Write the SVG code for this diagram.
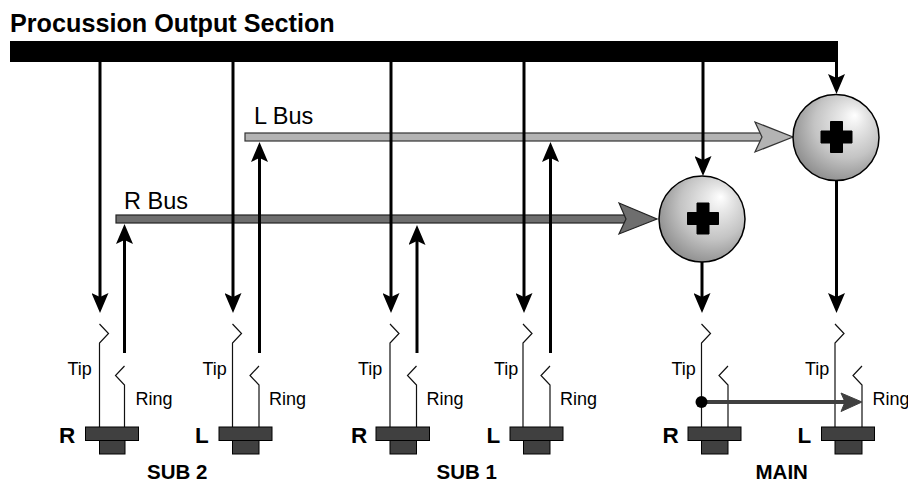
<svg xmlns="http://www.w3.org/2000/svg" xmlns:xlink="http://www.w3.org/1999/xlink" width="908" height="483" viewBox="0 0 908 483">
<style>
text{font-family:"Liberation Sans",Arial,sans-serif;fill:#000}
.title{font-size:25.2px;font-weight:bold}
.bus{font-size:23.5px}
.small{font-size:18px}
.lr{font-size:22.5px;font-weight:bold}
.grp{font-size:20.5px;font-weight:bold}
.sig{fill:none;stroke:#000;stroke-width:3}
.wire{fill:none;stroke:#111;stroke-width:1.2}
.plug{fill:#404040;stroke:#000;stroke-width:1}
.sphere{fill:url(#sph);stroke:#000;stroke-width:1.5}
.plus{fill:#000;stroke:#000;stroke-width:1;stroke-linejoin:round}
</style>
<defs>
<radialGradient id="sph" cx="0.6" cy="0.4" r="0.64" fx="0.72" fy="0.24">
<stop offset="0" stop-color="#ffffff"/>
<stop offset="0.22" stop-color="#e8e8e8"/>
<stop offset="0.62" stop-color="#c4c4c4"/>
<stop offset="1" stop-color="#8e8e8e"/>
</radialGradient>
<marker id="ah" markerUnits="userSpaceOnUse" viewBox="0 0 20 17" markerWidth="20" markerHeight="17" refX="4" refY="8.5" orient="auto">
<path d="M0,0 L20,8.5 L0,17 L4,8.5 z" fill="#000"/>
</marker>
<path id="plus" d="M-6,-15.5 h12 v9.5 h9.5 v12 h-9.5 v9.5 h-12 v-9.5 h-9.5 v-12 h9.5 z"/>
</defs>

<g id="title"><text class="title" x="10" y="31.5">Procussion Output Section</text></g>

<g id="output-bus"><rect x="10" y="41" width="828" height="21" fill="#000"/></g>

<g id="l-bus">
<rect x="245" y="133" width="518" height="8" fill="#b3b3b3" stroke="#333" stroke-width="1.2"/>
<polygon points="755,122 793,137 755,152 762,137" fill="#b3b3b3" stroke="#333" stroke-width="1.2"/>
<text class="bus" x="254" y="124">L Bus</text>
</g>

<g id="r-bus">
<rect x="116" y="215" width="511" height="8" fill="#6e6e6e" stroke="#222" stroke-width="1.2"/>
<polygon points="619,203 657,219 619,234 626,219" fill="#6e6e6e" stroke="#222" stroke-width="1.2"/>
<text class="bus" x="124" y="209">R Bus</text>
</g>

<g id="connectors">
<line class="sig" x1="100" y1="62" x2="100" y2="297" marker-end="url(#ah)"/>
<line class="sig" x1="233" y1="62" x2="233" y2="297" marker-end="url(#ah)"/>
<line class="sig" x1="391" y1="62" x2="391" y2="297" marker-end="url(#ah)"/>
<line class="sig" x1="524" y1="62" x2="524" y2="297" marker-end="url(#ah)"/>
<line class="sig" x1="703" y1="62" x2="703" y2="160" marker-end="url(#ah)"/>
<line class="sig" x1="836.5" y1="62" x2="836.5" y2="78" marker-end="url(#ah)"/>
<line class="sig" x1="124.5" y1="353" x2="124.5" y2="240" marker-end="url(#ah)"/>
<line class="sig" x1="259.5" y1="353" x2="259.5" y2="158" marker-end="url(#ah)"/>
<line class="sig" x1="417" y1="353" x2="417" y2="241" marker-end="url(#ah)"/>
<line class="sig" x1="550.5" y1="353" x2="550.5" y2="158" marker-end="url(#ah)"/>
<line class="sig" x1="702" y1="262" x2="702" y2="297" marker-end="url(#ah)"/>
<line class="sig" x1="836.5" y1="180" x2="836.5" y2="297" marker-end="url(#ah)"/>
</g>

<g id="sum-r">
<circle class="sphere" cx="836" cy="137.5" r="43"/>
<use xlink:href="#plus" href="#plus" class="plus" transform="translate(836.5,137)"/>
</g>

<g id="sum-l">
<circle class="sphere" cx="702" cy="219" r="43"/>
<use xlink:href="#plus" href="#plus" class="plus" transform="translate(703,218.5)"/>
</g>

<g id="sub2-r">
<path class="wire" d="M99.5,324 L108.5,333.5 L99.5,343 V427"/>
<path class="wire" d="M124.5,366 L115.5,375.5 L124.5,385 V427"/>
<rect class="plug" x="85.5" y="427" width="53" height="13.5"/>
<rect class="plug" x="99.5" y="440.5" width="25.5" height="13.5"/>
<text class="small" x="67.5" y="375">Tip</text>
<text class="small" x="135.5" y="404.5">Ring</text>
<text class="lr" x="59" y="443">R</text>
</g>

<g id="sub2-l">
<path class="wire" d="M232.5,324 L241.5,333.5 L232.5,343 V427"/>
<path class="wire" d="M259,366 L250,375.5 L259,385 V427"/>
<rect class="plug" x="219" y="427" width="53" height="13.5"/>
<rect class="plug" x="232.5" y="440.5" width="26.5" height="13.5"/>
<text class="small" x="202.5" y="375">Tip</text>
<text class="small" x="269" y="404.5">Ring</text>
<text class="lr" x="195" y="443">L</text>
</g>

<g id="sub1-r">
<path class="wire" d="M390,324 L399,333.5 L390,343 V427"/>
<path class="wire" d="M416.5,366 L407.5,375.5 L416.5,385 V427"/>
<rect class="plug" x="376" y="427" width="53.5" height="13.5"/>
<rect class="plug" x="390" y="440.5" width="26.5" height="13.5"/>
<text class="small" x="358" y="375">Tip</text>
<text class="small" x="426.5" y="404.5">Ring</text>
<text class="lr" x="351" y="443">R</text>
</g>

<g id="sub1-l">
<path class="wire" d="M523,324 L532,333.5 L523,343 V427"/>
<path class="wire" d="M550,366 L541,375.5 L550,385 V427"/>
<rect class="plug" x="510" y="427" width="53" height="13.5"/>
<rect class="plug" x="523.5" y="440.5" width="26.5" height="13.5"/>
<text class="small" x="494" y="375">Tip</text>
<text class="small" x="560" y="404.5">Ring</text>
<text class="lr" x="486.5" y="443">L</text>
</g>

<g id="main-r">
<path class="wire" d="M701.5,324 L710.5,333.5 L701.5,343 V427"/>
<path class="wire" d="M728,366 L719,375.5 L728,385 V427"/>
<rect class="plug" x="688" y="427" width="53" height="13.5"/>
<rect class="plug" x="701.5" y="440.5" width="26.5" height="13.5"/>
<text class="small" x="671.5" y="375">Tip</text>
<text class="lr" x="662.5" y="443">R</text>
</g>

<g id="main-l">
<path class="wire" d="M835,324 L844,333.5 L835,343 V427"/>
<path class="wire" d="M862,366 L853,375.5 L862,385 V427"/>
<rect class="plug" x="821.5" y="427" width="53" height="13.5"/>
<rect class="plug" x="835" y="440.5" width="27" height="13.5"/>
<text class="small" x="805" y="375">Tip</text>
<text class="small" x="872.5" y="404.5">Ring</text>
<text class="lr" x="797.5" y="443">L</text>
</g>

<g id="main-link">
<line x1="701.5" y1="402" x2="846" y2="402" stroke="#404040" stroke-width="4"/>
<polygon points="841,393 862,402 841,411.5 845,402" fill="#404040" stroke="#404040" stroke-width="1"/>
<circle cx="701.5" cy="402" r="6" fill="#000"/>
</g>

<g id="group-labels">
<text class="grp" x="147" y="479">SUB 2</text>
<text class="grp" x="436.5" y="479">SUB 1</text>
<text class="grp" x="755.5" y="479">MAIN</text>
</g>
</svg>
